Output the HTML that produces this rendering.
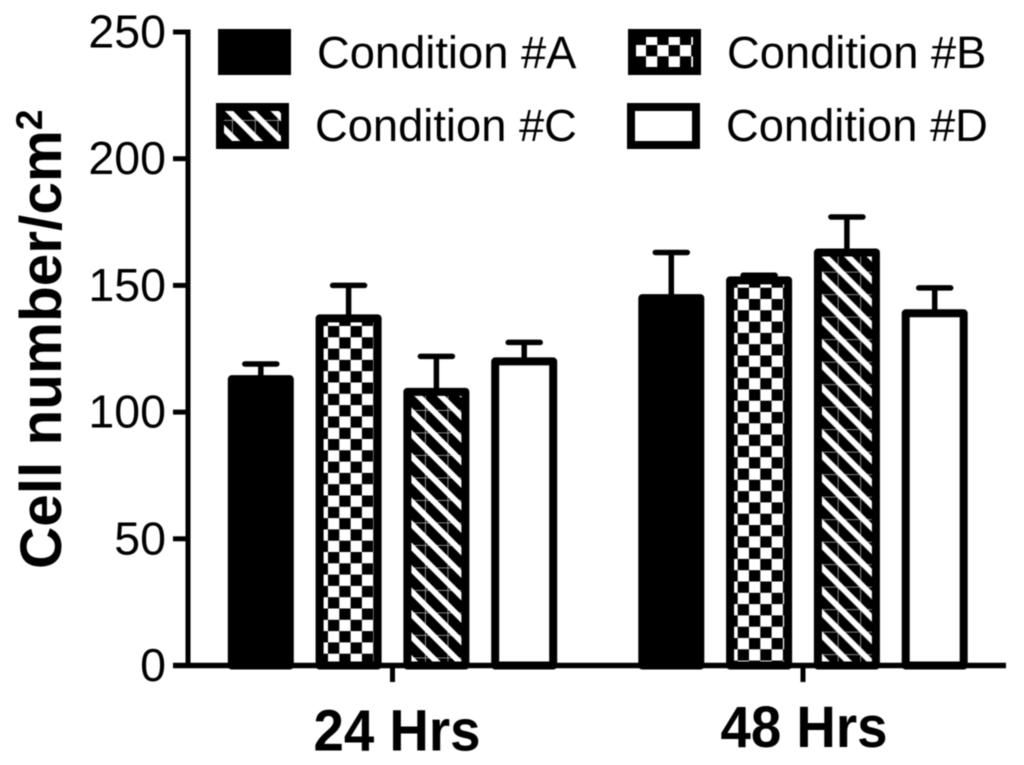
<!DOCTYPE html>
<html>
<head>
<meta charset="utf-8">
<title>Cell number chart</title>
<style>
html,body{margin:0;padding:0;background:#fff;width:1024px;height:765px;overflow:hidden}
svg{display:block;filter:blur(0.45px)}
text{font-family:"Liberation Sans",sans-serif;fill:#000}
.tick{font-size:46.5px;text-anchor:end}
.leg{font-size:45.3px}
.big{font-size:58px;font-weight:bold;text-anchor:middle}
</style>
</head>
<body>
<svg id="chart" width="1024" height="765" viewBox="0 0 1024 765" xmlns="http://www.w3.org/2000/svg">
<defs>
<pattern id="checker0" patternUnits="userSpaceOnUse" width="22.6" height="22.6" x="328" y="326">
<rect width="22.6" height="22.6" fill="#fff"/>
<rect x="0" y="0" width="11.3" height="11.3" fill="#000"/>
<rect x="11.3" y="11.3" width="11.3" height="11.3" fill="#000"/>
</pattern>
<pattern id="checker1" patternUnits="userSpaceOnUse" width="22.6" height="22.6" x="737.7" y="287.7">
<rect width="22.6" height="22.6" fill="#fff"/>
<rect x="0" y="0" width="11.3" height="11.3" fill="#000"/>
<rect x="11.3" y="11.3" width="11.3" height="11.3" fill="#000"/>
</pattern>
<pattern id="hatch0" patternUnits="userSpaceOnUse" width="22.5" height="22.5" x="425" y="410">
<rect width="22.5" height="22.5" fill="#000"/>
<path d="M0,0 H22.5 M0,0 V22.5" stroke="#aaa" stroke-width="1.6" fill="none"/>
<path d="M-22.5,-30 L67.5,60 M0,-30 L90,60 M-45,-30 L45,60" stroke="#fff" stroke-width="5.8" fill="none"/>
</pattern>
<pattern id="hatch1" patternUnits="userSpaceOnUse" width="22.5" height="22.5" x="837.7" y="271.7">
<rect width="22.5" height="22.5" fill="#000"/>
<path d="M0,0 H22.5 M0,0 V22.5" stroke="#aaa" stroke-width="1.6" fill="none"/>
<path d="M-26.9,-30 L63.1,60 M-4.4,-30 L85.6,60 M-49.4,-30 L40.6,60" stroke="#fff" stroke-width="5.8" fill="none"/>
</pattern>
<pattern id="checkerLegend" patternUnits="userSpaceOnUse" width="22.6" height="22.6" x="646" y="45">
<rect width="22.6" height="22.6" fill="#fff"/>
<rect x="11.3" y="11.3" width="11.3" height="11.3" fill="#000"/>
<rect x="0" y="0" width="11.3" height="11.3" fill="#000"/>
</pattern>
<pattern id="hatchLegend" patternUnits="userSpaceOnUse" width="22.8" height="22.8" x="232" y="120">
<rect width="22.8" height="22.8" fill="#000"/>
<path d="M0,0 H22.8 M0,0 V22.8" stroke="#aaa" stroke-width="1.6" fill="none"/>
<path d="M-24,-30 L66,60 M-1.2,-30 L88.8,60 M-46.8,-30 L43.2,60" stroke="#fff" stroke-width="5.8" fill="none"/>
</pattern>
</defs>
<g id="marks"></g>
<g id="axes"></g>
<text id="ytitle" font-size="58.5" font-weight="bold" transform="translate(61 569) rotate(-90)">Cell number/cm<tspan dy="-19" font-size="37">2</tspan></text>
<g>
<g>
<rect x="222" y="33" width="65" height="38" fill="#000" stroke="#000" stroke-width="8"/>
<text class="leg" x="317" y="68">Condition #A</text>
</g>
<g>
<rect x="632" y="33" width="65" height="38" fill="url(#checkerLegend)" stroke="#000" stroke-width="8"/>
<text class="leg" x="727" y="68">Condition #B</text>
</g>
<g>
<rect x="220" y="107" width="65" height="38" fill="url(#hatchLegend)" stroke="#000" stroke-width="8"/>
<text class="leg" x="315" y="141">Condition #C</text>
</g>
<g>
<rect x="631" y="107" width="65" height="38" fill="#fff" stroke="#000" stroke-width="8"/>
<text class="leg" x="726" y="141">Condition #D</text>
</g>
</g>
</svg>
<script>
const groups = ['24 Hrs', '48 Hrs'];
const seriesNames = ['Condition #A', 'Condition #B', 'Condition #C', 'Condition #D'];
const conditionA = [113, 145];
const conditionB = [137, 152];
const conditionC = [108, 163];
const conditionD = [120, 139];
const errorA = [6, 18];
const errorB = [13, 2];
const errorC = [14, 14];
const errorD = [7.5, 10];
const yTicks = [0, 50, 100, 150, 200, 250];

const NS = 'http://www.w3.org/2000/svg';
const marks = document.getElementById('marks');
const axes = document.getElementById('axes');
const yScale = v => 665.5 - v * (665.5 - 32) / 250;
const groupX = i => 392.5 + i * 410.5;
const barX = (g, s) => groupX(g) + (s - 1.5) * 87.8;
const fillFor = (s, g) => ['#000', 'url(#checker' + g + ')', 'url(#hatch' + g + ')', '#fff'][s];
const values = [conditionA, conditionB, conditionC, conditionD];
const errors = [errorA, errorB, errorC, errorD];

function make(tag, attrs, parent) {
  const el = document.createElementNS(NS, tag);
  for (const k in attrs) el.setAttribute(k, attrs[k]);
  parent.appendChild(el);
  return el;
}

values.forEach((series, s) => {
  series.forEach((v, g) => {
    const cx = barX(g, s);
    const top = yScale(v);
    const errTop = yScale(v + errors[s][g]);
    const stem = make('line', {x1: cx, x2: cx, y1: top, y2: errTop, stroke: '#000', 'stroke-width': 5.5}, marks);
    
    
    const cap = make('line', {x1: cx - 16, x2: cx + 16, y1: errTop, y2: errTop, stroke: '#000', 'stroke-width': 5.5, 'stroke-linecap': 'round'}, marks);
    
    
    const bar = make('rect', {x: cx - 29, y: top, width: 58, height: yScale(0) - top, fill: fillFor(s, g), stroke: '#000', 'stroke-width': 8, 'stroke-linejoin': 'round'}, marks);
    
    
  });
});

const yAxisLine = make('line', {x1: 188, x2: 188, y1: yScale(250) - 2.5, y2: yScale(0) + 2.5, stroke: '#000', 'stroke-width': 5}, axes);


const xAxisLine = make('line', {x1: 173, x2: 1006, y1: yScale(0), y2: yScale(0), stroke: '#000', 'stroke-width': 5.5}, axes);



yTicks.forEach(t => {
  const tick = make('line', {x1: 173, x2: 188, y1: yScale(t), y2: yScale(t), stroke: '#000', 'stroke-width': 5}, axes);
  
  
  const label = make('text', {class: 'tick', x: 166, y: yScale(t) + 15.5}, axes);
  
  
  label.textContent = t;
});

groups.forEach((name, g) => {
  const x = groupX(g);
  const tick = make('line', {x1: x, x2: x, y1: yScale(0), y2: 682, stroke: '#000', 'stroke-width': 5}, axes);
  
  
  const label = make('text', {class: 'big', x: x + (g ? 1 : 4.5), y: g ? 747 : 750.5, textLength: 167, lengthAdjust: 'spacingAndGlyphs'}, axes);
  
  
  label.textContent = name;
});
</script>
</body>
</html>
